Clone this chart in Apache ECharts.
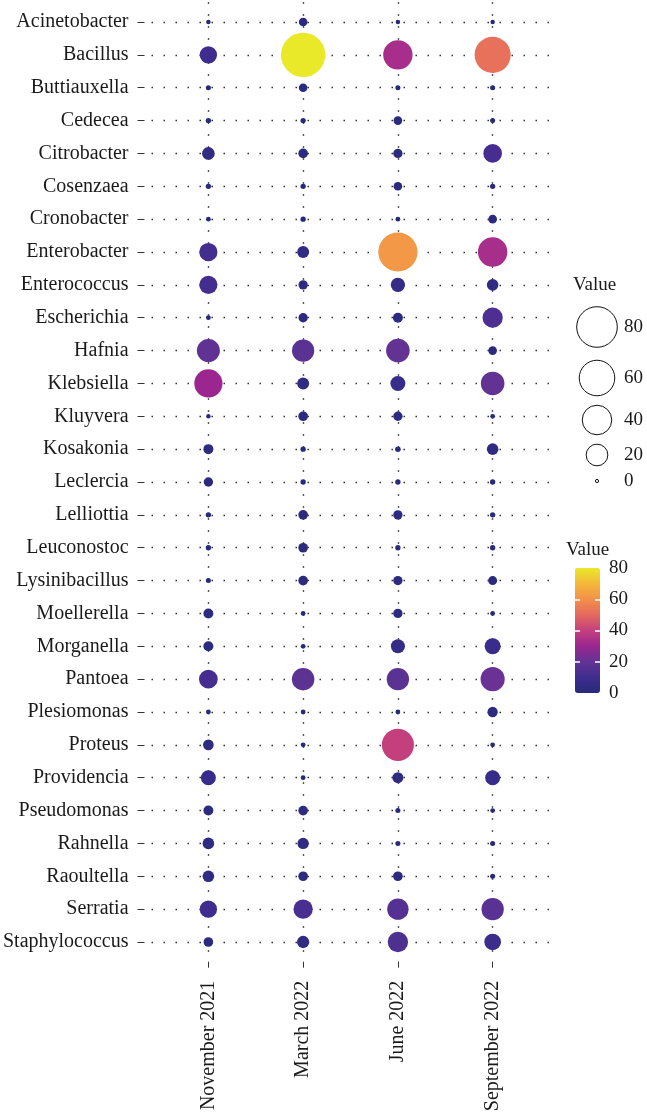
<!DOCTYPE html>
<html>
<head>
<meta charset="utf-8">
<script src="https://cdn.jsdelivr.net/npm/echarts@6/dist/echarts.min.js"></script>
<style>
  html, body { margin: 0; padding: 0; background: #fff; }
  #chart { width: 647px; height: 1117px; }
</style>
</head>
<body>
<div id="chart"></div>
<script>
  // sampling months (x axis)
  var months = ['November 2021', 'March 2022', 'June 2022', 'September 2022']

  // genera (y axis, top to bottom)
  var genera = ['Acinetobacter', 'Bacillus', 'Buttiauxella', 'Cedecea', 'Citrobacter', 'Cosenzaea',
    'Cronobacter', 'Enterobacter', 'Enterococcus', 'Escherichia', 'Hafnia', 'Klebsiella', 'Kluyvera',
    'Kosakonia', 'Leclercia', 'Lelliottia', 'Leuconostoc', 'Lysinibacillus', 'Moellerella', 'Morganella',
    'Pantoea', 'Plesiomonas', 'Proteus', 'Providencia', 'Pseudomonas', 'Rahnella', 'Raoultella',
    'Serratia', 'Staphylococcus']

  // relative abundance per month, same order as genera
  var nov2021 = [0.1, 9.7, 0.2, 0.25, 4.4, 0.25, 0.15, 11, 11, 0.15, 19, 30, 0.1, 2.3, 1.9, 0.26, 0.26,
    0.2, 2.3, 2.3, 11.6, 0.15, 2.8, 6.8, 2.3, 3.5, 3.5, 9.7, 2.1]
  var mar2022 = [1.5, 81, 1.5, 0.25, 2.1, 0.25, 0.25, 3.8, 1.9, 1.9, 17.6, 3.8, 2.1, 0.25, 0.26, 2.1, 2.1,
    2.1, 0.15, 0.15, 18, 0.15, 0.15, 0.15, 2.1, 3.3, 2.1, 12.6, 4.1]
  var jun2022 = [0.1, 33, 0.2, 1.5, 1.9, 1.5, 0.15, 62, 6, 2.3, 20, 6.8, 1.9, 0.3, 0.26, 1.9, 0.26,
    1.9, 1.9, 5.7, 17.6, 0.15, 40, 3.0, 0.2, 0.2, 2.1, 15.9, 14.2]
  var sep2022 = [0.1, 52, 0.2, 0.2, 11.6, 0.25, 1.5, 33, 3.5, 14, 1.5, 20, 0.15, 3.5, 0.26, 0.26, 0.26,
    1.7, 0.15, 8, 21, 2.5, 0.15, 6.8, 0.15, 0.2, 0.2, 17.6, 8.8]

  // legend breaks
  var sizeBreaks = [80, 60, 40, 20, 0]
  var colorTicks = [0, 20, 40, 60, 80]

  var byMonth = [nov2021, mar2022, jun2022, sep2022]
  var points = []
  byMonth.forEach(function (vals, j) {
    vals.forEach(function (v, i) {
      points.push([j, i, v])
    })
  })

  var plasmaLike = ['#272a7b', '#3f2d8f', '#633394', '#9b2690', '#c4407d', '#e4695f', '#f2904a', '#f4b83a', '#e9e92a']
  var serif = '"Liberation Serif", "DejaVu Serif", serif'
  var dotted = { color: '#222', width: 1.4, type: [1.4, 10.6] }
  var rowIdx = genera.map(function (g, i) { return i })

  function bubbleSize(v) {
    return 3 + 4.6 * Math.sqrt(v)
  }

  // size legend (drawn as graphic, stacked keys)
  var legendY = [327, 378, 420, 455, 481]
  var sizeLegend = [{
    type: 'text', left: 573, top: 276,
    style: { text: 'Value', font: '19px ' + serif, fill: '#1a1a1a' }
  }]
  sizeBreaks.forEach(function (b, k) {
    sizeLegend.push({
      type: 'circle',
      shape: { cx: 597, cy: legendY[k], r: Math.max(bubbleSize(b) * 0.92 / 2, 1.6) },
      style: { fill: '#fff', stroke: '#111', lineWidth: 1 }
    })
    sizeLegend.push({
      type: 'text', x: 624, y: legendY[k],
      style: { text: String(b), font: '19px ' + serif, fill: '#1a1a1a', verticalAlign: 'middle' }
    })
  })
  sizeLegend.push({
    type: 'text', left: 566, top: 541,
    style: { text: 'Value', font: '19px ' + serif, fill: '#1a1a1a' }
  })

  var chart = echarts.init(document.getElementById('chart'))
  chart.setOption({
    animation: false,
    backgroundColor: '#fff',
    grid: [
      { left: 150, right: 97.5, top: 2.3, bottom: 155.3 },
      { left: 575, top: 568, width: 25, height: 125 }
    ],
    xAxis: [{
      type: 'value', min: -0.6, max: 3.6, position: 'bottom',
      axisLine: { show: false, onZero: false },
      axisTick: { show: true, length: 6, customValues: [0, 1, 2, 3], lineStyle: { color: '#333' } },
      axisLabel: {
        customValues: [0, 1, 2, 3], rotate: 90, margin: 19,
        fontFamily: serif, fontSize: 20, color: '#1a1a1a',
        formatter: function (v) { return months[v] }
      },
      splitLine: { show: true, lineStyle: dotted }
    }, {
      gridIndex: 1, type: 'value', min: 0, max: 1, show: false,
      axisLine: { onZero: false }
    }],
    yAxis: [{
      type: 'value', min: -0.6, max: 28.6, inverse: true, offset: 7, position: 'left',
      axisLine: { show: false, onZero: false },
      axisTick: { show: true, length: 7, customValues: rowIdx, lineStyle: { color: '#333' } },
      axisLabel: {
        customValues: rowIdx, margin: 16,
        fontFamily: serif, fontSize: 20, color: '#1a1a1a',
        formatter: function (v) { return genera[v] }
      },
      splitLine: { show: true, lineStyle: dotted }
    }, {
      gridIndex: 1, type: 'value', min: 0, max: 80, position: 'right', z: 10,
      axisLine: { show: false, onZero: false },
      axisTick: { show: true, inside: true, length: 5, customValues: [20, 40, 60], lineStyle: { color: '#fff', width: 1.5 } },
      axisLabel: { customValues: colorTicks, margin: 9, fontFamily: serif, fontSize: 19, color: '#1a1a1a' },
      splitLine: { show: false }
    }, {
      gridIndex: 1, type: 'value', min: 0, max: 80, position: 'left', z: 10,
      axisLine: { show: false, onZero: false },
      axisTick: { show: true, inside: true, length: 5, customValues: [20, 40, 60], lineStyle: { color: '#fff', width: 1.5 } },
      axisLabel: { show: false },
      splitLine: { show: false }
    }],
    visualMap: {
      type: 'continuous',
      min: 0, max: 80,
      dimension: 2,
      seriesIndex: 0,
      calculable: false,
      left: 575, top: 568,
      itemWidth: 25, itemHeight: 125,
      padding: 0,
      inRange: { color: plasmaLike }
    },
    graphic: sizeLegend,
    series: [{
      type: 'scatter',
      data: points,
      symbolSize: function (val) { return bubbleSize(val[2]) },
      itemStyle: { opacity: 1 }
    }]
  })
</script>
</body>
</html>
